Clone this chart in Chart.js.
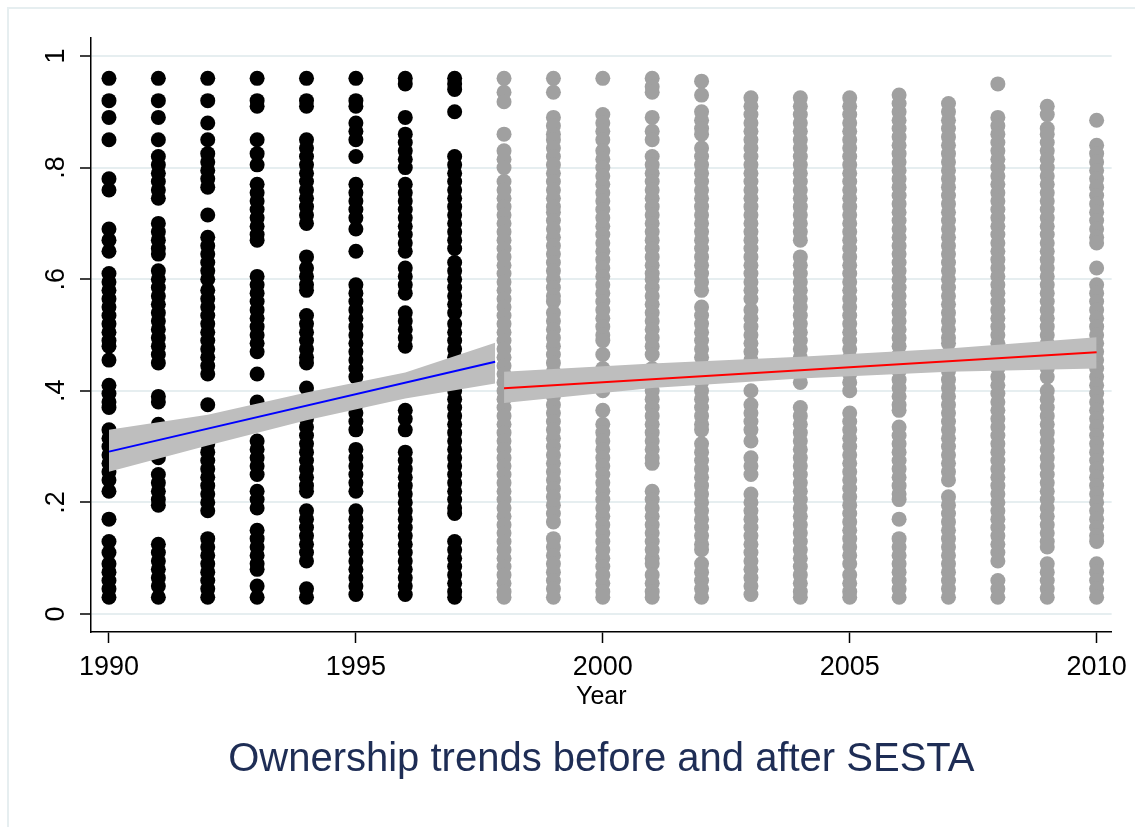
<!DOCTYPE html>
<html>
<head>
<meta charset="utf-8">
<script src="https://cdn.jsdelivr.net/npm/chart.js@4.4.1/dist/chart.umd.min.js"></script>
<style>
  html, body { margin: 0; padding: 0; background: #ffffff; }
  #wrap { width: 1135px; height: 827px; }
</style>
</head>
<body>
<div id="wrap"><canvas id="c" width="1135" height="827"></canvas></div>
<script>
// ---------- data ----------
const blackYears = [1990, 1991, 1992, 1993, 1994, 1995, 1996, 1997];
const grayYears = [1998, 1999, 2000, 2001, 2002, 2003, 2004, 2005, 2006, 2007, 2008, 2009, 2010];

const y1990 = [0.96,0.92,0.89,0.85,0.78,0.76,0.69,0.67,0.65,0.61,0.595,0.58,0.565,0.55,0.535,0.52,0.505,0.49,0.48,0.455,0.41,0.395,0.38,0.37,0.33,0.315,0.30,0.285,0.27,0.255,0.24,0.22,0.17,0.13,0.11,0.09,0.075,0.06,0.045,0.03];
const y1991 = [0.96,0.92,0.89,0.85,0.82,0.805,0.79,0.775,0.76,0.745,0.70,0.685,0.67,0.655,0.645,0.615,0.60,0.585,0.57,0.555,0.54,0.525,0.51,0.495,0.48,0.465,0.45,0.39,0.38,0.34,0.325,0.31,0.295,0.28,0.25,0.235,0.22,0.205,0.195,0.125,0.11,0.095,0.08,0.065,0.05,0.03];
const y1992 = [0.96,0.92,0.88,0.85,0.825,0.81,0.795,0.78,0.765,0.715,0.675,0.66,0.645,0.63,0.615,0.60,0.58,0.565,0.55,0.535,0.52,0.505,0.49,0.475,0.46,0.445,0.43,0.375,0.305,0.29,0.275,0.26,0.245,0.23,0.215,0.20,0.185,0.135,0.12,0.105,0.09,0.075,0.06,0.045,0.03];
const y1993 = [0.96,0.92,0.91,0.85,0.825,0.805,0.77,0.755,0.74,0.725,0.71,0.695,0.68,0.67,0.605,0.59,0.575,0.56,0.545,0.53,0.515,0.50,0.485,0.47,0.43,0.38,0.365,0.31,0.295,0.28,0.265,0.25,0.22,0.205,0.19,0.15,0.135,0.12,0.105,0.09,0.08,0.05,0.03];
const y1994 = [0.96,0.92,0.91,0.85,0.835,0.82,0.805,0.79,0.775,0.76,0.745,0.73,0.715,0.70,0.64,0.62,0.605,0.59,0.58,0.535,0.52,0.505,0.49,0.475,0.46,0.45,0.405,0.35,0.335,0.32,0.305,0.29,0.275,0.26,0.245,0.23,0.22,0.185,0.17,0.155,0.14,0.125,0.11,0.095,0.045,0.03];
const y1995 = [0.96,0.92,0.91,0.88,0.865,0.85,0.82,0.77,0.755,0.74,0.725,0.71,0.69,0.65,0.59,0.575,0.56,0.545,0.53,0.515,0.50,0.485,0.47,0.455,0.44,0.425,0.39,0.375,0.36,0.345,0.33,0.295,0.28,0.265,0.25,0.235,0.22,0.185,0.17,0.155,0.14,0.125,0.11,0.095,0.08,0.065,0.05,0.035];
const y1996 = [0.96,0.95,0.89,0.86,0.845,0.83,0.815,0.80,0.77,0.755,0.74,0.725,0.71,0.695,0.68,0.665,0.65,0.62,0.605,0.59,0.575,0.54,0.525,0.51,0.495,0.48,0.365,0.35,0.33,0.29,0.275,0.26,0.245,0.23,0.215,0.20,0.185,0.17,0.155,0.14,0.125,0.11,0.095,0.08,0.065,0.05,0.035];
const y1997 = [0.96,0.95,0.94,0.90,0.82,0.805,0.79,0.775,0.76,0.745,0.73,0.715,0.70,0.685,0.67,0.655,0.63,0.615,0.60,0.585,0.57,0.555,0.54,0.52,0.505,0.49,0.475,0.46,0.445,0.43,0.415,0.40,0.385,0.37,0.355,0.34,0.325,0.31,0.295,0.28,0.265,0.25,0.235,0.22,0.205,0.19,0.18,0.13,0.115,0.10,0.085,0.07,0.055,0.04,0.03];

const y1998 = [0.96,0.935,0.918,0.86,0.83,0.815,0.80,0.775,0.76,0.745,0.73,0.715,0.70,0.685,0.67,0.655,0.64,0.625,0.61,0.595,0.58,0.565,0.55,0.535,0.52,0.505,0.49,0.475,0.46,0.445,0.43,0.415,0.40,0.385,0.37,0.355,0.34,0.325,0.31,0.295,0.28,0.265,0.25,0.235,0.22,0.205,0.19,0.175,0.16,0.145,0.13,0.115,0.10,0.085,0.07,0.055,0.04,0.03];
const y1999 = [0.96,0.935,0.89,0.875,0.86,0.85,0.835,0.82,0.805,0.79,0.775,0.76,0.745,0.73,0.72,0.705,0.69,0.675,0.66,0.645,0.63,0.615,0.60,0.585,0.57,0.56,0.54,0.525,0.51,0.495,0.48,0.465,0.45,0.435,0.42,0.405,0.39,0.375,0.36,0.345,0.33,0.315,0.30,0.285,0.27,0.255,0.24,0.225,0.21,0.195,0.18,0.165,0.135,0.12,0.105,0.09,0.075,0.06,0.045,0.03];
const y2000 = [0.96,0.895,0.88,0.865,0.85,0.83,0.815,0.80,0.785,0.77,0.755,0.74,0.725,0.71,0.695,0.68,0.665,0.65,0.635,0.62,0.605,0.59,0.575,0.56,0.545,0.53,0.515,0.50,0.49,0.465,0.44,0.42,0.40,0.365,0.34,0.325,0.31,0.295,0.28,0.265,0.25,0.235,0.22,0.205,0.19,0.175,0.16,0.145,0.13,0.115,0.10,0.085,0.07,0.055,0.04,0.03];
const y2001 = [0.96,0.945,0.935,0.89,0.865,0.85,0.82,0.805,0.79,0.775,0.76,0.745,0.73,0.715,0.70,0.685,0.67,0.655,0.64,0.625,0.61,0.60,0.585,0.57,0.555,0.54,0.525,0.51,0.495,0.48,0.465,0.44,0.40,0.385,0.37,0.355,0.34,0.325,0.31,0.295,0.28,0.27,0.22,0.205,0.19,0.175,0.16,0.145,0.13,0.115,0.10,0.09,0.07,0.055,0.04,0.03];
const y2002 = [0.955,0.93,0.90,0.885,0.87,0.86,0.835,0.82,0.805,0.79,0.775,0.76,0.745,0.73,0.715,0.70,0.685,0.67,0.655,0.64,0.625,0.61,0.595,0.58,0.55,0.535,0.52,0.505,0.49,0.475,0.46,0.445,0.43,0.415,0.40,0.385,0.37,0.355,0.34,0.33,0.305,0.29,0.275,0.26,0.245,0.23,0.215,0.20,0.185,0.17,0.155,0.14,0.125,0.115,0.09,0.075,0.06,0.045,0.03];
const y2003 = [0.925,0.91,0.895,0.88,0.865,0.85,0.835,0.82,0.805,0.79,0.775,0.76,0.745,0.73,0.715,0.70,0.685,0.67,0.655,0.64,0.625,0.61,0.595,0.58,0.565,0.545,0.53,0.515,0.50,0.485,0.47,0.455,0.40,0.375,0.36,0.345,0.33,0.31,0.28,0.265,0.25,0.215,0.20,0.185,0.17,0.155,0.14,0.125,0.11,0.095,0.08,0.065,0.05,0.035];
const y2004 = [0.925,0.91,0.895,0.88,0.865,0.85,0.835,0.82,0.805,0.79,0.775,0.76,0.745,0.73,0.715,0.70,0.685,0.67,0.64,0.625,0.61,0.595,0.58,0.565,0.55,0.535,0.52,0.505,0.49,0.475,0.46,0.445,0.43,0.415,0.37,0.355,0.34,0.325,0.31,0.295,0.28,0.265,0.25,0.235,0.22,0.205,0.19,0.175,0.16,0.145,0.13,0.115,0.10,0.085,0.07,0.055,0.04,0.03];
const y2005 = [0.925,0.91,0.895,0.88,0.865,0.85,0.835,0.82,0.805,0.79,0.775,0.76,0.745,0.73,0.715,0.70,0.685,0.67,0.655,0.64,0.625,0.61,0.595,0.58,0.565,0.55,0.535,0.52,0.505,0.49,0.475,0.46,0.445,0.43,0.415,0.40,0.36,0.345,0.33,0.315,0.30,0.285,0.27,0.255,0.24,0.225,0.21,0.195,0.18,0.165,0.15,0.135,0.12,0.105,0.09,0.07,0.055,0.04,0.03];
const y2006 = [0.93,0.915,0.90,0.885,0.87,0.855,0.84,0.825,0.81,0.795,0.78,0.765,0.75,0.735,0.72,0.705,0.69,0.675,0.66,0.645,0.63,0.615,0.60,0.585,0.57,0.555,0.54,0.525,0.51,0.495,0.48,0.465,0.45,0.435,0.42,0.405,0.39,0.375,0.365,0.335,0.32,0.305,0.29,0.275,0.26,0.245,0.23,0.215,0.205,0.17,0.135,0.12,0.105,0.09,0.075,0.06,0.045,0.03];
const y2007 = [0.915,0.90,0.885,0.87,0.855,0.84,0.825,0.81,0.795,0.78,0.765,0.75,0.735,0.72,0.705,0.69,0.675,0.66,0.645,0.63,0.615,0.60,0.585,0.57,0.555,0.54,0.525,0.51,0.495,0.485,0.45,0.435,0.42,0.405,0.39,0.375,0.36,0.345,0.33,0.315,0.30,0.285,0.27,0.255,0.24,0.21,0.195,0.18,0.165,0.15,0.135,0.12,0.105,0.09,0.075,0.06,0.045,0.03];
const y2008 = [0.95,0.89,0.875,0.86,0.845,0.83,0.815,0.80,0.785,0.77,0.755,0.74,0.725,0.71,0.695,0.68,0.665,0.65,0.635,0.62,0.605,0.59,0.575,0.56,0.545,0.53,0.515,0.50,0.485,0.47,0.455,0.44,0.425,0.41,0.395,0.38,0.365,0.35,0.335,0.32,0.305,0.29,0.275,0.26,0.245,0.23,0.215,0.20,0.185,0.17,0.155,0.14,0.125,0.11,0.095,0.06,0.045,0.03];
const y2009 = [0.91,0.895,0.87,0.86,0.845,0.83,0.815,0.80,0.785,0.77,0.755,0.74,0.725,0.71,0.695,0.68,0.665,0.65,0.635,0.62,0.605,0.59,0.575,0.56,0.545,0.53,0.515,0.50,0.485,0.47,0.455,0.44,0.425,0.40,0.385,0.37,0.355,0.34,0.325,0.31,0.295,0.28,0.265,0.25,0.235,0.22,0.205,0.19,0.175,0.16,0.145,0.13,0.12,0.09,0.075,0.06,0.045,0.03];
const y2010 = [0.885,0.84,0.825,0.81,0.795,0.78,0.765,0.75,0.735,0.72,0.705,0.69,0.675,0.665,0.62,0.59,0.575,0.56,0.545,0.53,0.515,0.50,0.485,0.47,0.455,0.44,0.425,0.41,0.395,0.38,0.365,0.35,0.335,0.32,0.305,0.29,0.275,0.26,0.245,0.23,0.215,0.20,0.185,0.17,0.155,0.14,0.13,0.09,0.075,0.06,0.045,0.03];

const blackCols = [y1990, y1991, y1992, y1993, y1994, y1995, y1996, y1997];
const grayCols = [y1998, y1999, y2000, y2001, y2002, y2003, y2004, y2005, y2006, y2007, y2008, y2009, y2010];

// fitted lines and confidence bands
const blueLineX = [1990, 1997.82];
const blueLineY = [0.291, 0.452];
const redLineX = [1998, 2010];
const redLineY = [0.4045, 0.469];

const blueBandX = [1990, 1992, 1994, 1996, 1997.82];
const blueUpper = [0.330, 0.357, 0.397, 0.433, 0.486];
const blueLower = [0.255, 0.302, 0.347, 0.386, 0.413];
const redBandX = [1998, 2001, 2004, 2007, 2010];
const redUpper = [0.434, 0.449, 0.461, 0.476, 0.496];
const redLower = [0.378, 0.405, 0.422, 0.434, 0.440];

// axes
const xTicks = [1990, 1995, 2000, 2005, 2010];
const yTicks = [0, 0.2, 0.4, 0.6, 0.8, 1];
const yTickLabels = ['0', '.2', '.4', '.6', '.8', '1'];
const xTitle = 'Year';
const chartTitle = 'Ownership trends before and after SESTA';

// ---------- build ----------
function cols(years, columns) {
  const out = [];
  years.forEach((yr, i) => columns[i].forEach(v => out.push({ x: yr, y: v })));
  return out;
}
function pairs(xs, ys) { return xs.map((x, i) => ({ x: x, y: ys[i] })); }

const FONT = "'Liberation Sans', Arial, sans-serif";
const GRID = '#e6eef0';
const BAND = '#bebebe';

const frame = {
  id: 'frame',
  beforeDraw(chart) {
    const ctx = chart.ctx;
    ctx.save();
    ctx.fillStyle = '#ffffff';
    ctx.fillRect(0, 0, chart.width, chart.height);
    ctx.strokeStyle = GRID;
    ctx.lineWidth = 2;
    ctx.strokeRect(8, 8, chart.width + 40, chart.height + 40);
    ctx.restore();
  }
};

const lineDs = (label, xs, ys, color) => ({
  type: 'line', label, data: pairs(xs, ys), borderColor: color, borderWidth: 2,
  pointRadius: 0, fill: false, tension: 0
});
const bandDs = (label, xs, ys, fill) => ({
  type: 'line', label, data: pairs(xs, ys), borderColor: BAND, borderWidth: 0,
  backgroundColor: BAND, pointRadius: 0, fill: fill, tension: 0
});

new Chart(document.getElementById('c'), {
  type: 'scatter',
  data: {
    datasets: [
      Object.assign(lineDs('blue fit', blueLineX, blueLineY, '#0000ff'), { order: 0 }),
      Object.assign(lineDs('red fit', redLineX, redLineY, '#ff0000'), { order: 0 }),
      Object.assign(bandDs('blue upper', blueBandX, blueUpper, '+1'), { order: 1 }),
      Object.assign(bandDs('blue lower', blueBandX, blueLower, false), { order: 1 }),
      Object.assign(bandDs('red upper', redBandX, redUpper, '+1'), { order: 1 }),
      Object.assign(bandDs('red lower', redBandX, redLower, false), { order: 1 }),
      { label: 'before', data: cols(blackYears, blackCols), backgroundColor: '#000000',
        borderWidth: 0, pointRadius: 7.5, order: 2 },
      { label: 'after', data: cols(grayYears, grayCols), backgroundColor: '#a0a0a0',
        borderWidth: 0, pointRadius: 7.5, order: 2 }
    ]
  },
  options: {
    responsive: false,
    animation: false,
    devicePixelRatio: 1,
    layout: { padding: { left: 0, right: 23, top: 38, bottom: 0 } },
    plugins: {
      legend: { display: false },
      tooltip: { enabled: false },
      title: {
        display: true, position: 'bottom', fullSize: false, text: chartTitle,
        color: '#1e2d55', font: { family: FONT, size: 40, weight: 'normal' },
        padding: { top: 4, bottom: 43 }
      }
    },
    scales: {
      x: {
        type: 'linear', position: 'bottom', min: 1989.636, max: 2010.304,
        afterBuildTicks: s => { s.ticks = xTicks.map(v => ({ value: v })); },
        afterFit: s => { s.height = 100; },
        ticks: { color: '#000', font: { family: FONT, size: 27 }, padding: 8,
                 maxRotation: 0, minRotation: 0, callback: v => String(v) },
        grid: { drawOnChartArea: false, drawTicks: true, tickLength: 11,
                tickColor: '#000', tickWidth: 1.5 },
        border: { display: true, color: '#000', width: 1.5 },
        title: { display: true, text: xTitle, color: '#000',
                 font: { family: FONT, size: 25 }, padding: { top: 0, bottom: 20 } }
      },
      y: {
        type: 'linear', position: 'left', min: -0.0323, max: 1.0323,
        afterBuildTicks: s => { s.ticks = yTicks.map(v => ({ value: v })); },
        afterFit: s => { s.width = 91; },
        ticks: { color: '#000', font: { family: FONT, size: 27 }, padding: 12,
                 minRotation: 90, maxRotation: 90, crossAlign: 'center',
                 callback: (v, i) => yTickLabels[i] },
        grid: { color: GRID, lineWidth: 2, drawTicks: true, tickLength: 11,
                tickColor: '#000', tickWidth: 1.5 },
        border: { display: true, color: '#000', width: 1.5 }
      }
    }
  },
  plugins: [frame]
});
</script>
</body>
</html>
